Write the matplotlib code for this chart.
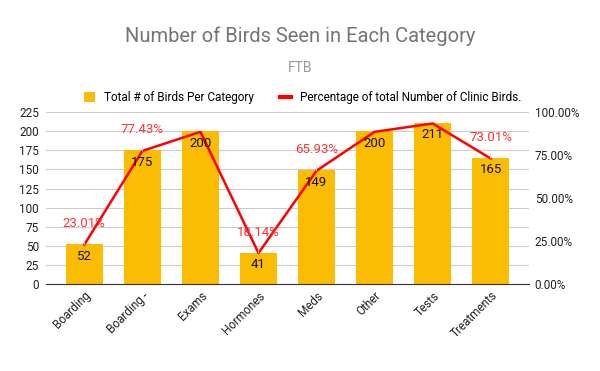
import matplotlib
matplotlib.use("Agg")
import matplotlib.pyplot as plt
from matplotlib.lines import Line2D
from matplotlib.patches import Patch
from matplotlib.ticker import FuncFormatter

plt.rcParams['font.family'] = ['Roboto', 'DejaVu Sans']

categories = ["Boarding", "Boarding -", "Exams", "Hormones", "Meds", "Other", "Tests", "Treatments"]
bird_counts = [52, 175, 200, 41, 149, 200, 211, 165]
pct_of_clinic = [0.2301, 0.7743, 0.8850, 0.1814, 0.6593, 0.8850, 0.9336, 0.7301]
show_pct_label = [True, True, False, True, True, False, False, True]

BAR_COLOR = "#FBBC04"
LINE_COLOR = "#FF0000"

fig = plt.figure(figsize=(6, 3.71), dpi=100)
ax = fig.add_axes([0.0767, 0.2337, 0.805, 0.4643])
x = list(range(len(categories)))

# --- bars ---
ax.bar(x, bird_counts, width=0.64, color=BAR_COLOR, zorder=2)
ax.set_xlim(-0.66, len(categories) - 0.34)
ax.set_ylim(0, 225)
ax.set_yticks(range(0, 226, 25))
ax.grid(axis='y', color="#cccccc", linewidth=0.8, zorder=0)
ax.set_axisbelow(True)
for side in ["top", "right", "left"]:
    ax.spines[side].set_visible(False)
ax.spines["bottom"].set_color("#333333")
ax.tick_params(axis='both', length=0, labelsize=8.5, colors="#222222")
ax.tick_params(axis='y', pad=5)
ax.set_xticks(x)
ax.set_xticklabels(categories, rotation=45, ha="right", va="top", rotation_mode="anchor")

# --- percentage line on right axis ---
ax2 = ax.twinx()
ax2.set_ylim(0, 1)
ax2.set_yticks([0, 0.25, 0.5, 0.75, 1.0])
ax2.yaxis.set_major_formatter(FuncFormatter(lambda v, _: f"{v*100:.2f}%"))
for side in ["top", "right", "left", "bottom"]:
    ax2.spines[side].set_visible(False)
ax2.tick_params(axis='y', length=0, labelsize=8.5, colors="#222222", pad=4)
ax2.plot(x, pct_of_clinic, color=LINE_COLOR, linewidth=1.8, zorder=4)

# bar value labels go on top of the line
for xi, v in zip(x, bird_counts):
    ax2.annotate(str(v), (xi, v), xycoords=ax.transData, xytext=(0, -12), textcoords="offset pixels",
                 ha="center", va="center", fontsize=9.5, color="#111111", zorder=6)

for xi, p, show in zip(x, pct_of_clinic, show_pct_label):
    if not show:
        continue
    ax2.annotate(f"{p*100:.2f}%", (xi, p), xytext=(0, 21), textcoords="offset pixels",
                 ha="center", va="center", fontsize=9.5, color="#ff3333", zorder=6,
                 arrowprops=dict(arrowstyle="-", color="#dddddd", lw=0.6, shrinkA=5, shrinkB=0))

# --- titles and legend ---
fig.text(0.5, 0.9016, "Number of Birds Seen in Each Category", ha="center", va="center",
         fontsize=14.5, color="#757575")
fig.text(0.5, 0.8167, "FTB", ha="center", va="center", fontsize=10, color="#999999")

handles = [
    Patch(facecolor=BAR_COLOR, edgecolor="none", label="Total # of Birds Per Category"),
    Line2D([0], [0], color=LINE_COLOR, linewidth=3, label="Percentage of total Number of Clinic Birds."),
]
fig.legend(handles=handles, loc="center", bbox_to_anchor=(0.505, 0.736), ncol=2, frameon=False,
           fontsize=8.5, handlelength=0.9, handleheight=0.9, handletextpad=0.8, columnspacing=2.2)

fig.savefig("out.png", dpi=100)
